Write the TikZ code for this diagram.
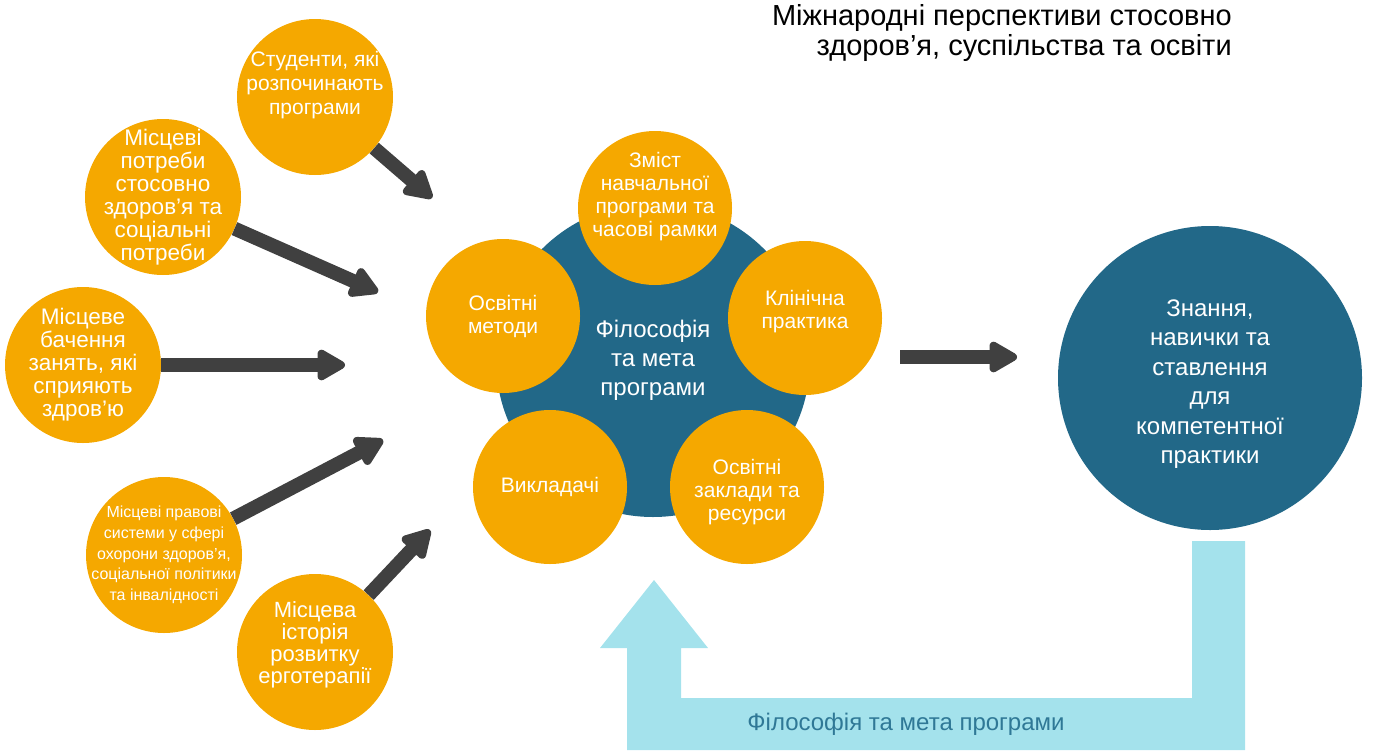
\documentclass[tikz,border=0pt]{standalone}
\usepackage{fontspec}
\setmainfont{Liberation Sans}
\usetikzlibrary{arrows.meta}
\definecolor{orng}{RGB}{245,168,0}
\definecolor{tealb}{RGB}{34,104,136}
\definecolor{darkg}{RGB}{64,64,64}
\definecolor{skyb}{RGB}{164,226,236}
\definecolor{capt}{RGB}{47,120,150}
\tikzset{
    fs/.style 2 args = {font=\fontsize{#1}{#2}\selectfont},
    txt/.style = {text=white, align=center, inner sep=0pt},
    outer/.style = {circle, fill=orng, inner sep=0pt, minimum size=156pt},
    inner/.style = {circle, fill=orng, inner sep=0pt, minimum size=154pt},
    hub/.style = {circle, fill=tealb, inner sep=0pt, minimum size=314pt},
    goal/.style = {circle, fill=tealb, inner sep=0pt, minimum size=304pt},
    feed/.style = {-{Triangle[round,length=32pt,width=34pt]}, line width=14pt, darkg}, % inputs
    title/.style = {align=right, anchor=east, inner sep=0pt, fs={29}{30}}
}
\begin{document}
\begin{tikzpicture}[x=1pt, y=-1pt]
\useasboundingbox (0,0) rectangle (1378,750);
%
\node[hub, label={[txt, fs={24}{29}]center:{Філософія\\та мета\\програми}}] at (653, 360) (phil) {};
\node[inner, label={[txt, fs={21}{23}, yshift=11pt]center:{Зміст\\навчальної\\програми та\\часові рамки}}] at (655, 208) (cont) {};
\node[inner, label={[txt, fs={21}{23}]center:{Освітні\\методи}}] at (503, 316) (meth) {};
\node[inner, label={[txt, fs={21}{23}, yshift=6pt]center:{Клінічна\\практика}}] at (805, 318) (clin) {};
\node[inner, label={[txt, fs={21}{23}]center:{Викладачі}}] at (550, 487) (teach) {};
\node[inner, label={[txt, fs={21}{23}, yshift=-5pt]center:{Освітні\\заклади та\\ресурси}}] at (747, 487) (res) {};
%
\node[outer, label={[txt, fs={21}{24}, yshift=12pt]center:{Студенти, які\\розпочинають\\програми}}] at (315, 97) (stud) {};
\node[outer, label={[txt, fs={22.5}{23}]center:{Місцеві\\потреби\\стосовно\\здоров’я та\\соціальні\\потреби}}] at (163, 197) (need) {};
\node[outer, label={[txt, fs={22.5}{23}]center:{Місцеве\\бачення\\занять, які\\сприяють\\здров’ю}}] at (83, 365) (view) {};
\node[outer, label={[txt, fs={16}{20.7}]center:{Місцеві правові\\системи у сфері\\охорони здоров’я,\\соціальної політики\\та інвалідності}}] at (164, 555) (law) {};
\node[outer, label={[txt, fs={22}{22}, yshift=7pt]center:{Місцева\\історія\\розвитку\\ерготерапії}}] at (315, 652) (hist) {};
%
\node[goal, label={[txt, fs={24}{29.5}, yshift=-6pt]center:{Знання,\\навички та\\ставлення\\для\\компетентної\\практики}}] at (1210, 378) (know) {};
%
\coordinate (t1) at (432, 198);
\coordinate (t2) at (378, 292);
\coordinate (t3) at (345, 365);
\coordinate (t4) at (383, 440);
\coordinate (t5) at (430, 530);
\coordinate (b1) at (900, 357);
\coordinate (b2) at (1017, 357);
%
\draw[feed] (stud) -- (t1);
\draw[feed] (need) -- (t2);
\draw[feed] (view) -- (t3);
\draw[feed] (law) -- (t4);
\draw[feed] (hist) -- (t5);
\draw[feed] (b1) -- (b2);
%
\fill[skyb] (1192,541) -- (1245,541) -- (1245,750) -- (627,750) -- (627,648) -- (600,648)
  -- (654,580) -- (708,648) -- (681,648) -- (681,698) -- (1192,698) -- cycle;
\node[text=capt, fs={24}{26}] at (906, 724) (back) {Філософія та мета програми};
%
\node[title] at (1232, 33) (head) {Міжнародні перспективи стосовно\\здоров’я, суспільства та освіти};

\end{tikzpicture}
\end{document}
